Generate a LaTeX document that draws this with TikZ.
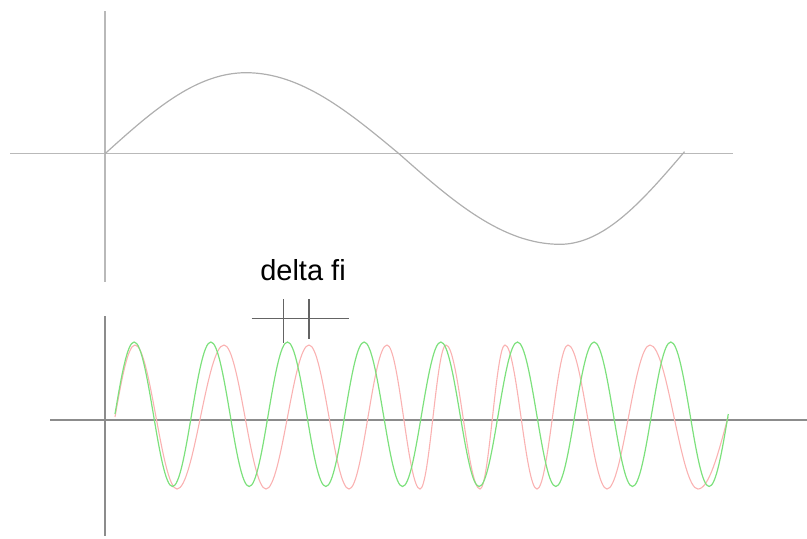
\documentclass[tikz,border=0pt]{standalone}
\usepackage{fontspec}
\setmainfont{Liberation Sans}
\usepackage{tikz}
\definecolor{lightaxis}{RGB}{185,185,185}
\definecolor{darkaxis}{RGB}{140,140,140}
\definecolor{markgray}{RGB}{100,100,100}
\definecolor{sinegray}{RGB}{175,175,175}
\definecolor{wavegreen}{RGB}{125,225,125}
\definecolor{wavered}{RGB}{250,178,178}

\begin{document}
\begin{tikzpicture}[
  x=0.5pt, y=-0.5pt,
  axis/.style={lightaxis, line width=0.6pt},
  axisb/.style={darkaxis, line width=0.6pt},
  marker/.style={markgray, line width=0.6pt},
  sinewave/.style={sinegray, line width=0.6pt},
  greenwave/.style={wavegreen, line width=0.6pt},
  redwave/.style={wavered, line width=0.55pt},
  label/.style={font=\fontsize{14.5}{16}\selectfont, anchor=base, inner sep=0pt}
]
\useasboundingbox (0,0) rectangle (807,538);

% upper plot
\draw[axis] (105,11) -- (105,282);
\draw[axis] (10,153.7) -- (733,153.7);
\draw[sinewave] (105,153.7) sin (246,72.7) cos (399,153.7) sin (560,244.3) cos (684.5,151.7);

% lower plot
\draw[axisb] (105,316) -- (105,536);
\draw[axisb] (50,420) -- (807,420);

\draw[redwave] (115,417)
  \foreach \p/\z/\t/\w in {135/156/177/200.5, 224/245/266/287.5, 309/329/349/368,
    387/403.5/420/433, 446/463/480/492.5, 505/521/537/552.5,
    568/587.5/607/628.5, 650/674/698/728}
  { sin (\p,345) cos (\z,417) sin (\t,489) cos (\w,417) };

\draw[greenwave] (115,414)
  \foreach \k in {0,...,7}
  { sin ({115+76.66*\k+19.17},342) cos ({115+76.66*\k+38.33},414)
    sin ({115+76.66*\k+57.5},486.5) cos ({115+76.66*(\k+1)},414) };

% phase shift marker
\node[label] (dfi) at (303,280.7) {delta fi};
\coordinate (gpeak) at (283.7,342.7);
\coordinate (rpeak) at (309,339.3);
\coordinate (ml) at (251.7,318.3);
\coordinate (mr) at (349,318.3);
\draw[marker] (ml) -- (mr);
\draw[marker] (gpeak |- 0,299.3) -- (gpeak);
\draw[marker] (rpeak |- 0,299.3) -- (rpeak);
\end{tikzpicture}
\end{document}
